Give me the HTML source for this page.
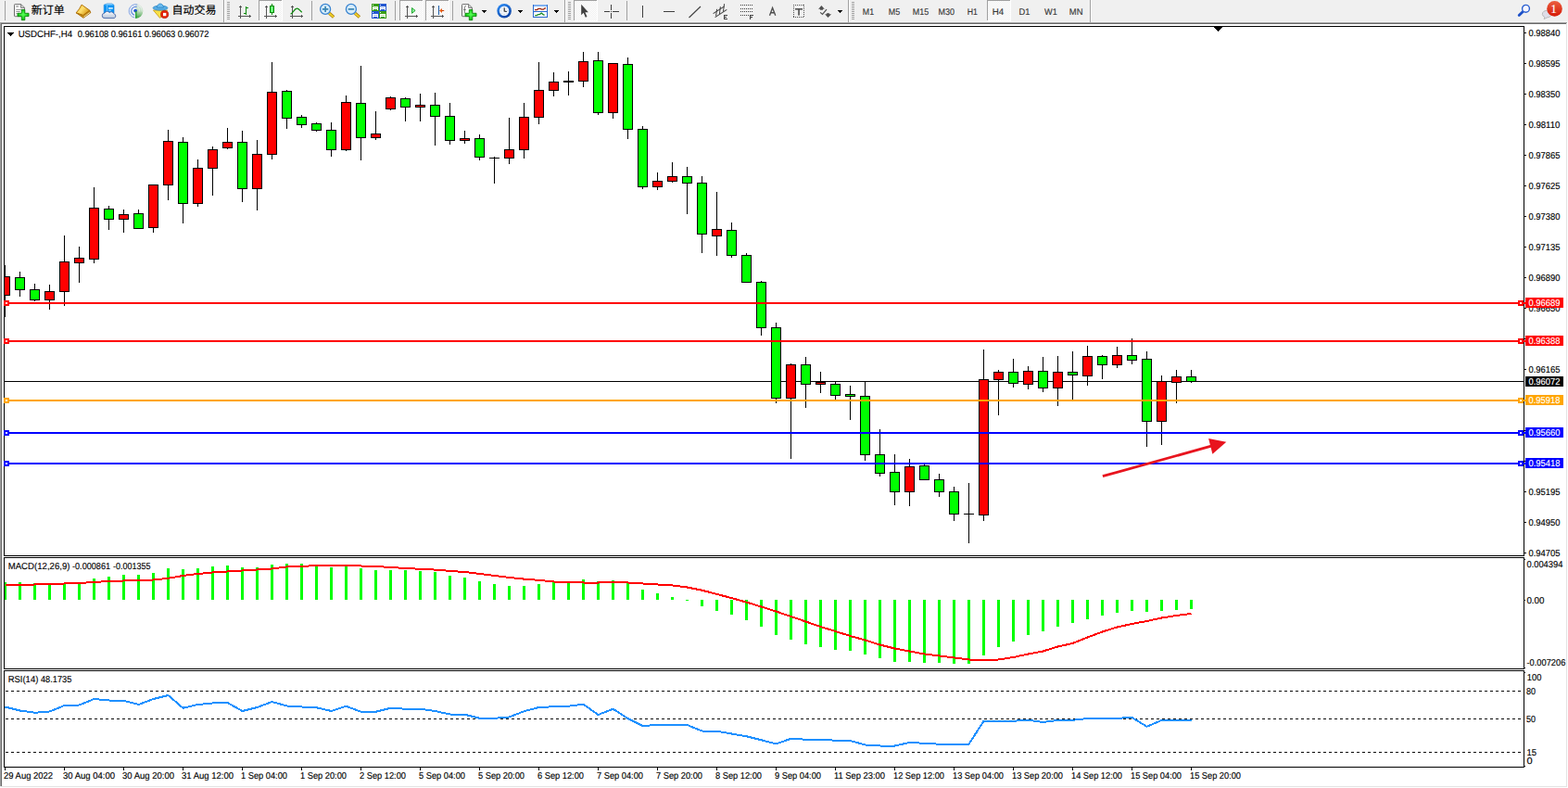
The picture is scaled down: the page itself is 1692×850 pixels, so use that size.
<!DOCTYPE html>
<html><head><meta charset="utf-8"><title>USDCHF-,H4</title>
<style>html,body{margin:0;padding:0;background:#f0f0f0;}body{width:1692px;height:850px;position:relative;overflow:hidden;font-family:"Liberation Sans",sans-serif;}svg text{font-family:"Liberation Sans",sans-serif;text-rendering:geometricPrecision;stroke-width:0.15px;paint-order:stroke;}</style></head>
<body>
<svg width="1692" height="850" viewBox="0 0 1692 850" shape-rendering="crispEdges" font-family="Liberation Sans, sans-serif" style="position:absolute;left:0;top:0"><rect x="0" y="0" width="1692" height="850" fill="#f0f0f0"/>
<rect x="0" y="23" width="1692" height="1" fill="#f4f4f4"/>
<rect x="0" y="24" width="1691" height="1" fill="#a0a0a0"/>
<rect x="0" y="24" width="1" height="824" fill="#a0a0a0"/>
<rect x="1" y="25" width="1689" height="1" fill="#696969"/>
<rect x="1" y="25" width="1" height="823" fill="#696969"/>
<rect x="2" y="26" width="1688" height="822" fill="#ffffff"/>
<rect x="1690" y="25" width="1" height="824" fill="#e3e3e3"/>
<rect x="1" y="848" width="1690" height="1" fill="#e3e3e3"/>
<rect x="1691" y="24" width="1" height="826" fill="#ffffff"/>
<rect x="0" y="849" width="1692" height="1" fill="#ffffff"/>
<rect x="4" y="28" width="1641" height="1" fill="#000"/>
<rect x="4" y="599" width="1641" height="1" fill="#000"/>
<rect x="4" y="28" width="1" height="572" fill="#000"/>
<rect x="1644" y="28" width="1" height="572" fill="#000"/>
<rect x="4" y="601" width="1641" height="1" fill="#000"/>
<rect x="4" y="721" width="1641" height="1" fill="#000"/>
<rect x="4" y="601" width="1" height="121" fill="#000"/>
<rect x="1644" y="601" width="1" height="121" fill="#000"/>
<rect x="4" y="723" width="1641" height="1" fill="#000"/>
<rect x="4" y="827" width="1641" height="1" fill="#000"/>
<rect x="4" y="723" width="1" height="105" fill="#000"/>
<rect x="1644" y="723" width="1" height="105" fill="#000"/>
<rect x="1645" y="35" width="2" height="1" fill="#000"/>
<text x="1649.43" y="39" fill="#000" stroke="#000" font-size="10.0" textLength="33.93" lengthAdjust="spacingAndGlyphs">0.98840</text>
<rect x="1645" y="68" width="2" height="1" fill="#000"/>
<text x="1649.43" y="72" fill="#000" stroke="#000" font-size="10.0" textLength="33.96" lengthAdjust="spacingAndGlyphs">0.98595</text>
<rect x="1645" y="101" width="2" height="1" fill="#000"/>
<text x="1649.43" y="105" fill="#000" stroke="#000" font-size="10.0" textLength="33.93" lengthAdjust="spacingAndGlyphs">0.98350</text>
<rect x="1645" y="134" width="2" height="1" fill="#000"/>
<text x="1649.43" y="138" fill="#000" stroke="#000" font-size="10.0" textLength="33.93" lengthAdjust="spacingAndGlyphs">0.98110</text>
<rect x="1645" y="167" width="2" height="1" fill="#000"/>
<text x="1649.43" y="171" fill="#000" stroke="#000" font-size="10.0" textLength="33.96" lengthAdjust="spacingAndGlyphs">0.97865</text>
<rect x="1645" y="200" width="2" height="1" fill="#000"/>
<text x="1649.43" y="204" fill="#000" stroke="#000" font-size="10.0" textLength="33.96" lengthAdjust="spacingAndGlyphs">0.97625</text>
<rect x="1645" y="233" width="2" height="1" fill="#000"/>
<text x="1649.43" y="237" fill="#000" stroke="#000" font-size="10.0" textLength="33.93" lengthAdjust="spacingAndGlyphs">0.97380</text>
<rect x="1645" y="266" width="2" height="1" fill="#000"/>
<text x="1649.43" y="270" fill="#000" stroke="#000" font-size="10.0" textLength="33.96" lengthAdjust="spacingAndGlyphs">0.97135</text>
<rect x="1645" y="299" width="2" height="1" fill="#000"/>
<text x="1649.43" y="303" fill="#000" stroke="#000" font-size="10.0" textLength="33.93" lengthAdjust="spacingAndGlyphs">0.96890</text>
<rect x="1645" y="332" width="2" height="1" fill="#000"/>
<text x="1649.43" y="336" fill="#000" stroke="#000" font-size="10.0" textLength="33.93" lengthAdjust="spacingAndGlyphs">0.96650</text>
<rect x="1645" y="365" width="2" height="1" fill="#000"/>
<rect x="1645" y="398" width="2" height="1" fill="#000"/>
<text x="1649.43" y="402" fill="#000" stroke="#000" font-size="10.0" textLength="33.96" lengthAdjust="spacingAndGlyphs">0.96165</text>
<rect x="1645" y="431" width="2" height="1" fill="#000"/>
<rect x="1645" y="464" width="2" height="1" fill="#000"/>
<rect x="1645" y="497" width="2" height="1" fill="#000"/>
<rect x="1645" y="530" width="2" height="1" fill="#000"/>
<text x="1649.43" y="534" fill="#000" stroke="#000" font-size="10.0" textLength="33.96" lengthAdjust="spacingAndGlyphs">0.95195</text>
<rect x="1645" y="563" width="2" height="1" fill="#000"/>
<text x="1649.43" y="567" fill="#000" stroke="#000" font-size="10.0" textLength="33.93" lengthAdjust="spacingAndGlyphs">0.94950</text>
<rect x="1645" y="596" width="2" height="1" fill="#000"/>
<text x="1649.43" y="600" fill="#000" stroke="#000" font-size="10.0" textLength="33.96" lengthAdjust="spacingAndGlyphs">0.94705</text>
<rect x="1645" y="603" width="1" height="1" fill="#000"/>
<rect x="1645" y="647" width="1" height="1" fill="#000"/>
<rect x="1645" y="720" width="1" height="1" fill="#000"/>
<rect x="1645" y="725" width="1" height="1" fill="#000"/>
<rect x="1645" y="826" width="1" height="1" fill="#000"/>
<rect x="5" y="411" width="1639" height="1" fill="#000"/>
<clipPath id="cc"><rect x="5" y="29" width="1639" height="570"/></clipPath><g clip-path="url(#cc)">
<rect x="5" y="286" width="1" height="56" fill="#000"/>
<rect x="0" y="298" width="11" height="21" fill="#000"/>
<rect x="1" y="299" width="9" height="19" fill="#ff0000"/>
<rect x="21" y="293" width="1" height="27" fill="#000"/>
<rect x="16" y="299" width="11" height="14" fill="#000"/>
<rect x="17" y="300" width="9" height="12" fill="#00ff00"/>
<rect x="37" y="306" width="1" height="19" fill="#000"/>
<rect x="32" y="312" width="11" height="12" fill="#000"/>
<rect x="33" y="313" width="9" height="10" fill="#00ff00"/>
<rect x="53" y="307" width="1" height="27" fill="#000"/>
<rect x="48" y="314" width="11" height="10" fill="#000"/>
<rect x="49" y="315" width="9" height="8" fill="#ff0000"/>
<rect x="69" y="254" width="1" height="76" fill="#000"/>
<rect x="64" y="282" width="11" height="33" fill="#000"/>
<rect x="65" y="283" width="9" height="31" fill="#ff0000"/>
<rect x="85" y="266" width="1" height="39" fill="#000"/>
<rect x="80" y="278" width="11" height="6" fill="#000"/>
<rect x="81" y="279" width="9" height="4" fill="#ff0000"/>
<rect x="101" y="202" width="1" height="82" fill="#000"/>
<rect x="96" y="224" width="11" height="56" fill="#000"/>
<rect x="97" y="225" width="9" height="54" fill="#ff0000"/>
<rect x="117" y="222" width="1" height="26" fill="#000"/>
<rect x="112" y="225" width="11" height="12" fill="#000"/>
<rect x="113" y="226" width="9" height="10" fill="#00ff00"/>
<rect x="133" y="226" width="1" height="25" fill="#000"/>
<rect x="128" y="231" width="11" height="6" fill="#000"/>
<rect x="129" y="232" width="9" height="4" fill="#ff0000"/>
<rect x="149" y="226" width="1" height="21" fill="#000"/>
<rect x="144" y="230" width="11" height="17" fill="#000"/>
<rect x="145" y="231" width="9" height="15" fill="#00ff00"/>
<rect x="165" y="199" width="1" height="52" fill="#000"/>
<rect x="160" y="199" width="11" height="47" fill="#000"/>
<rect x="161" y="200" width="9" height="45" fill="#ff0000"/>
<rect x="181" y="140" width="1" height="76" fill="#000"/>
<rect x="176" y="152" width="11" height="48" fill="#000"/>
<rect x="177" y="153" width="9" height="46" fill="#ff0000"/>
<rect x="197" y="148" width="1" height="93" fill="#000"/>
<rect x="192" y="153" width="11" height="67" fill="#000"/>
<rect x="193" y="154" width="9" height="65" fill="#00ff00"/>
<rect x="213" y="172" width="1" height="51" fill="#000"/>
<rect x="208" y="181" width="11" height="39" fill="#000"/>
<rect x="209" y="182" width="9" height="37" fill="#ff0000"/>
<rect x="229" y="158" width="1" height="53" fill="#000"/>
<rect x="224" y="161" width="11" height="21" fill="#000"/>
<rect x="225" y="162" width="9" height="19" fill="#ff0000"/>
<rect x="245" y="138" width="1" height="23" fill="#000"/>
<rect x="240" y="153" width="11" height="7" fill="#000"/>
<rect x="241" y="154" width="9" height="5" fill="#ff0000"/>
<rect x="261" y="141" width="1" height="77" fill="#000"/>
<rect x="256" y="153" width="11" height="51" fill="#000"/>
<rect x="257" y="154" width="9" height="49" fill="#00ff00"/>
<rect x="277" y="151" width="1" height="76" fill="#000"/>
<rect x="272" y="166" width="11" height="38" fill="#000"/>
<rect x="273" y="167" width="9" height="36" fill="#ff0000"/>
<rect x="293" y="67" width="1" height="105" fill="#000"/>
<rect x="288" y="99" width="11" height="68" fill="#000"/>
<rect x="289" y="100" width="9" height="66" fill="#ff0000"/>
<rect x="309" y="97" width="1" height="42" fill="#000"/>
<rect x="304" y="98" width="11" height="30" fill="#000"/>
<rect x="305" y="99" width="9" height="28" fill="#00ff00"/>
<rect x="325" y="124" width="1" height="14" fill="#000"/>
<rect x="320" y="126" width="11" height="9" fill="#000"/>
<rect x="321" y="127" width="9" height="7" fill="#00ff00"/>
<rect x="341" y="132" width="1" height="10" fill="#000"/>
<rect x="336" y="133" width="11" height="8" fill="#000"/>
<rect x="337" y="134" width="9" height="6" fill="#00ff00"/>
<rect x="357" y="132" width="1" height="37" fill="#000"/>
<rect x="352" y="140" width="11" height="22" fill="#000"/>
<rect x="353" y="141" width="9" height="20" fill="#00ff00"/>
<rect x="373" y="103" width="1" height="60" fill="#000"/>
<rect x="368" y="110" width="11" height="52" fill="#000"/>
<rect x="369" y="111" width="9" height="50" fill="#ff0000"/>
<rect x="389" y="71" width="1" height="102" fill="#000"/>
<rect x="384" y="111" width="11" height="38" fill="#000"/>
<rect x="385" y="112" width="9" height="36" fill="#00ff00"/>
<rect x="405" y="120" width="1" height="31" fill="#000"/>
<rect x="400" y="144" width="11" height="5" fill="#000"/>
<rect x="401" y="145" width="9" height="3" fill="#ff0000"/>
<rect x="421" y="104" width="1" height="15" fill="#000"/>
<rect x="416" y="105" width="11" height="13" fill="#000"/>
<rect x="417" y="106" width="9" height="11" fill="#ff0000"/>
<rect x="437" y="105" width="1" height="26" fill="#000"/>
<rect x="432" y="106" width="11" height="10" fill="#000"/>
<rect x="433" y="107" width="9" height="8" fill="#00ff00"/>
<rect x="453" y="101" width="1" height="30" fill="#000"/>
<rect x="448" y="113" width="11" height="3" fill="#000"/>
<rect x="449" y="114" width="9" height="1" fill="#ff0000"/>
<rect x="469" y="100" width="1" height="57" fill="#000"/>
<rect x="464" y="113" width="11" height="13" fill="#000"/>
<rect x="465" y="114" width="9" height="11" fill="#00ff00"/>
<rect x="485" y="111" width="1" height="45" fill="#000"/>
<rect x="480" y="125" width="11" height="27" fill="#000"/>
<rect x="481" y="126" width="9" height="25" fill="#00ff00"/>
<rect x="501" y="141" width="1" height="14" fill="#000"/>
<rect x="496" y="149" width="11" height="3" fill="#000"/>
<rect x="497" y="150" width="9" height="1" fill="#ff0000"/>
<rect x="517" y="145" width="1" height="28" fill="#000"/>
<rect x="512" y="149" width="11" height="21" fill="#000"/>
<rect x="513" y="150" width="9" height="19" fill="#00ff00"/>
<rect x="533" y="169" width="1" height="29" fill="#000"/>
<rect x="528" y="170" width="11" height="1" fill="#000"/>
<rect x="549" y="127" width="1" height="50" fill="#000"/>
<rect x="544" y="161" width="11" height="10" fill="#000"/>
<rect x="545" y="162" width="9" height="8" fill="#ff0000"/>
<rect x="565" y="111" width="1" height="60" fill="#000"/>
<rect x="560" y="126" width="11" height="36" fill="#000"/>
<rect x="561" y="127" width="9" height="34" fill="#ff0000"/>
<rect x="581" y="67" width="1" height="67" fill="#000"/>
<rect x="576" y="97" width="11" height="30" fill="#000"/>
<rect x="577" y="98" width="9" height="28" fill="#ff0000"/>
<rect x="597" y="78" width="1" height="26" fill="#000"/>
<rect x="592" y="88" width="11" height="10" fill="#000"/>
<rect x="593" y="89" width="9" height="8" fill="#ff0000"/>
<rect x="613" y="77" width="1" height="26" fill="#000"/>
<rect x="608" y="87" width="11" height="2" fill="#000"/>
<rect x="629" y="56" width="1" height="38" fill="#000"/>
<rect x="624" y="66" width="11" height="22" fill="#000"/>
<rect x="625" y="67" width="9" height="20" fill="#ff0000"/>
<rect x="645" y="56" width="1" height="68" fill="#000"/>
<rect x="640" y="65" width="11" height="57" fill="#000"/>
<rect x="641" y="66" width="9" height="55" fill="#00ff00"/>
<rect x="661" y="68" width="1" height="60" fill="#000"/>
<rect x="656" y="68" width="11" height="54" fill="#000"/>
<rect x="657" y="69" width="9" height="52" fill="#ff0000"/>
<rect x="677" y="62" width="1" height="88" fill="#000"/>
<rect x="672" y="69" width="11" height="71" fill="#000"/>
<rect x="673" y="70" width="9" height="69" fill="#00ff00"/>
<rect x="693" y="136" width="1" height="68" fill="#000"/>
<rect x="688" y="139" width="11" height="63" fill="#000"/>
<rect x="689" y="140" width="9" height="61" fill="#00ff00"/>
<rect x="709" y="186" width="1" height="19" fill="#000"/>
<rect x="704" y="195" width="11" height="7" fill="#000"/>
<rect x="705" y="196" width="9" height="5" fill="#ff0000"/>
<rect x="725" y="175" width="1" height="22" fill="#000"/>
<rect x="720" y="190" width="11" height="6" fill="#000"/>
<rect x="721" y="191" width="9" height="4" fill="#ff0000"/>
<rect x="741" y="180" width="1" height="51" fill="#000"/>
<rect x="736" y="190" width="11" height="8" fill="#000"/>
<rect x="737" y="191" width="9" height="6" fill="#00ff00"/>
<rect x="757" y="190" width="1" height="83" fill="#000"/>
<rect x="752" y="197" width="11" height="56" fill="#000"/>
<rect x="753" y="198" width="9" height="54" fill="#00ff00"/>
<rect x="773" y="207" width="1" height="69" fill="#000"/>
<rect x="768" y="247" width="11" height="8" fill="#000"/>
<rect x="769" y="248" width="9" height="6" fill="#ff0000"/>
<rect x="789" y="240" width="1" height="38" fill="#000"/>
<rect x="784" y="248" width="11" height="28" fill="#000"/>
<rect x="785" y="249" width="9" height="26" fill="#00ff00"/>
<rect x="805" y="273" width="1" height="32" fill="#000"/>
<rect x="800" y="275" width="11" height="30" fill="#000"/>
<rect x="801" y="276" width="9" height="28" fill="#00ff00"/>
<rect x="821" y="303" width="1" height="59" fill="#000"/>
<rect x="816" y="304" width="11" height="50" fill="#000"/>
<rect x="817" y="305" width="9" height="48" fill="#00ff00"/>
<rect x="837" y="348" width="1" height="87" fill="#000"/>
<rect x="832" y="353" width="11" height="77" fill="#000"/>
<rect x="833" y="354" width="9" height="75" fill="#00ff00"/>
<rect x="853" y="392" width="1" height="103" fill="#000"/>
<rect x="848" y="393" width="11" height="37" fill="#000"/>
<rect x="849" y="394" width="9" height="35" fill="#ff0000"/>
<rect x="869" y="385" width="1" height="55" fill="#000"/>
<rect x="864" y="393" width="11" height="22" fill="#000"/>
<rect x="865" y="394" width="9" height="20" fill="#00ff00"/>
<rect x="885" y="401" width="1" height="23" fill="#000"/>
<rect x="880" y="412" width="11" height="3" fill="#000"/>
<rect x="881" y="413" width="9" height="1" fill="#ff0000"/>
<rect x="901" y="412" width="1" height="19" fill="#000"/>
<rect x="896" y="414" width="11" height="13" fill="#000"/>
<rect x="897" y="415" width="9" height="11" fill="#00ff00"/>
<rect x="917" y="416" width="1" height="37" fill="#000"/>
<rect x="912" y="425" width="11" height="3" fill="#000"/>
<rect x="913" y="426" width="9" height="1" fill="#00ff00"/>
<rect x="933" y="412" width="1" height="85" fill="#000"/>
<rect x="928" y="427" width="11" height="64" fill="#000"/>
<rect x="929" y="428" width="9" height="62" fill="#00ff00"/>
<rect x="949" y="463" width="1" height="51" fill="#000"/>
<rect x="944" y="490" width="11" height="21" fill="#000"/>
<rect x="945" y="491" width="9" height="19" fill="#00ff00"/>
<rect x="965" y="490" width="1" height="55" fill="#000"/>
<rect x="960" y="509" width="11" height="22" fill="#000"/>
<rect x="961" y="510" width="9" height="20" fill="#00ff00"/>
<rect x="981" y="495" width="1" height="51" fill="#000"/>
<rect x="976" y="503" width="11" height="28" fill="#000"/>
<rect x="977" y="504" width="9" height="26" fill="#ff0000"/>
<rect x="997" y="501" width="1" height="17" fill="#000"/>
<rect x="992" y="502" width="11" height="16" fill="#000"/>
<rect x="993" y="503" width="9" height="14" fill="#00ff00"/>
<rect x="1013" y="511" width="1" height="25" fill="#000"/>
<rect x="1008" y="517" width="11" height="14" fill="#000"/>
<rect x="1009" y="518" width="9" height="12" fill="#00ff00"/>
<rect x="1029" y="525" width="1" height="37" fill="#000"/>
<rect x="1024" y="530" width="11" height="25" fill="#000"/>
<rect x="1025" y="531" width="9" height="23" fill="#00ff00"/>
<rect x="1045" y="521" width="1" height="65" fill="#000"/>
<rect x="1040" y="554" width="11" height="1" fill="#000"/>
<rect x="1061" y="377" width="1" height="185" fill="#000"/>
<rect x="1056" y="409" width="11" height="147" fill="#000"/>
<rect x="1057" y="410" width="9" height="145" fill="#ff0000"/>
<rect x="1077" y="399" width="1" height="49" fill="#000"/>
<rect x="1072" y="401" width="11" height="9" fill="#000"/>
<rect x="1073" y="402" width="9" height="7" fill="#ff0000"/>
<rect x="1093" y="387" width="1" height="31" fill="#000"/>
<rect x="1088" y="401" width="11" height="13" fill="#000"/>
<rect x="1089" y="402" width="9" height="11" fill="#00ff00"/>
<rect x="1109" y="395" width="1" height="25" fill="#000"/>
<rect x="1104" y="400" width="11" height="15" fill="#000"/>
<rect x="1105" y="401" width="9" height="13" fill="#ff0000"/>
<rect x="1125" y="385" width="1" height="38" fill="#000"/>
<rect x="1120" y="400" width="11" height="19" fill="#000"/>
<rect x="1121" y="401" width="9" height="17" fill="#00ff00"/>
<rect x="1141" y="384" width="1" height="54" fill="#000"/>
<rect x="1136" y="401" width="11" height="18" fill="#000"/>
<rect x="1137" y="402" width="9" height="16" fill="#ff0000"/>
<rect x="1157" y="379" width="1" height="52" fill="#000"/>
<rect x="1152" y="401" width="11" height="4" fill="#000"/>
<rect x="1153" y="402" width="9" height="2" fill="#00ff00"/>
<rect x="1173" y="373" width="1" height="43" fill="#000"/>
<rect x="1168" y="384" width="11" height="22" fill="#000"/>
<rect x="1169" y="385" width="9" height="20" fill="#ff0000"/>
<rect x="1189" y="383" width="1" height="26" fill="#000"/>
<rect x="1184" y="384" width="11" height="10" fill="#000"/>
<rect x="1185" y="385" width="9" height="8" fill="#00ff00"/>
<rect x="1205" y="374" width="1" height="23" fill="#000"/>
<rect x="1200" y="383" width="11" height="11" fill="#000"/>
<rect x="1201" y="384" width="9" height="9" fill="#ff0000"/>
<rect x="1221" y="365" width="1" height="28" fill="#000"/>
<rect x="1216" y="383" width="11" height="6" fill="#000"/>
<rect x="1217" y="384" width="9" height="4" fill="#00ff00"/>
<rect x="1237" y="379" width="1" height="103" fill="#000"/>
<rect x="1232" y="387" width="11" height="68" fill="#000"/>
<rect x="1233" y="388" width="9" height="66" fill="#00ff00"/>
<rect x="1253" y="405" width="1" height="75" fill="#000"/>
<rect x="1248" y="411" width="11" height="44" fill="#000"/>
<rect x="1249" y="412" width="9" height="42" fill="#ff0000"/>
<rect x="1269" y="399" width="1" height="36" fill="#000"/>
<rect x="1264" y="406" width="11" height="7" fill="#000"/>
<rect x="1265" y="407" width="9" height="5" fill="#ff0000"/>
<rect x="1285" y="399" width="1" height="14" fill="#000"/>
<rect x="1280" y="406" width="11" height="6" fill="#000"/>
<rect x="1281" y="407" width="9" height="4" fill="#00ff00"/>
</g>
<rect x="5" y="326" width="1641" height="2" fill="#ff0000"/>
<rect x="4" y="324" width="6" height="6" fill="#ff0000"/>
<rect x="6" y="326" width="2" height="2" fill="#fff"/>
<rect x="1638" y="324" width="6" height="6" fill="#ff0000"/>
<rect x="1640" y="326" width="2" height="2" fill="#fff"/>
<rect x="1646" y="321" width="41" height="11" fill="#ff0000"/>
<text x="1649.43" y="330" fill="#fff" stroke="#fff" font-size="10.0" textLength="34.01" lengthAdjust="spacingAndGlyphs">0.96689</text>
<rect x="5" y="367" width="1641" height="2" fill="#ff0000"/>
<rect x="4" y="365" width="6" height="6" fill="#ff0000"/>
<rect x="6" y="367" width="2" height="2" fill="#fff"/>
<rect x="1638" y="365" width="6" height="6" fill="#ff0000"/>
<rect x="1640" y="367" width="2" height="2" fill="#fff"/>
<rect x="1646" y="362" width="41" height="11" fill="#ff0000"/>
<text x="1649.43" y="371" fill="#fff" stroke="#fff" font-size="10.0" textLength="33.98" lengthAdjust="spacingAndGlyphs">0.96388</text>
<rect x="5" y="431" width="1641" height="2" fill="#ffa500"/>
<rect x="4" y="429" width="6" height="6" fill="#ffa500"/>
<rect x="6" y="431" width="2" height="2" fill="#fff"/>
<rect x="1638" y="429" width="6" height="6" fill="#ffa500"/>
<rect x="1640" y="431" width="2" height="2" fill="#fff"/>
<rect x="1646" y="426" width="41" height="11" fill="#ffa500"/>
<text x="1649.43" y="435" fill="#fff" stroke="#fff" font-size="10.0" textLength="33.98" lengthAdjust="spacingAndGlyphs">0.95918</text>
<rect x="5" y="466" width="1641" height="2" fill="#0000ff"/>
<rect x="4" y="464" width="6" height="6" fill="#0000ff"/>
<rect x="6" y="466" width="2" height="2" fill="#fff"/>
<rect x="1638" y="464" width="6" height="6" fill="#0000ff"/>
<rect x="1640" y="466" width="2" height="2" fill="#fff"/>
<rect x="1646" y="461" width="41" height="11" fill="#0000ff"/>
<text x="1649.43" y="470" fill="#fff" stroke="#fff" font-size="10.0" textLength="33.93" lengthAdjust="spacingAndGlyphs">0.95660</text>
<rect x="5" y="499" width="1641" height="2" fill="#0000ff"/>
<rect x="4" y="497" width="6" height="6" fill="#0000ff"/>
<rect x="6" y="499" width="2" height="2" fill="#fff"/>
<rect x="1638" y="497" width="6" height="6" fill="#0000ff"/>
<rect x="1640" y="499" width="2" height="2" fill="#fff"/>
<rect x="1646" y="494" width="41" height="11" fill="#0000ff"/>
<text x="1649.43" y="503" fill="#fff" stroke="#fff" font-size="10.0" textLength="33.98" lengthAdjust="spacingAndGlyphs">0.95418</text>
<rect x="1646" y="406" width="41" height="11" fill="#000"/>
<text x="1649.43" y="415" fill="#fff" stroke="#fff" font-size="10.0" textLength="34.04" lengthAdjust="spacingAndGlyphs">0.96072</text>
<g shape-rendering="geometricPrecision"><line x1="1189.9" y1="513.7" x2="1307" y2="481.2" stroke="#e8141e" stroke-width="2.8"/><polygon points="1304.1,473 1323.3,476.8 1308.4,489.8" fill="#e8141e"/></g>
<rect x="1310" y="29" width="9" height="1" fill="#000"/>
<rect x="1311" y="30" width="7" height="1" fill="#000"/>
<rect x="1312" y="31" width="5" height="1" fill="#000"/>
<rect x="1313" y="32" width="3" height="1" fill="#000"/>
<rect x="1314" y="33" width="1" height="1" fill="#000"/>
<rect x="8" y="35" width="7" height="1" fill="#000"/>
<rect x="9" y="36" width="5" height="1" fill="#000"/>
<rect x="10" y="37" width="3" height="1" fill="#000"/>
<rect x="11" y="38" width="1" height="1" fill="#000"/>
<text x="19.66" y="40" fill="#000" stroke="#000" font-size="10.0" textLength="58.43" lengthAdjust="spacingAndGlyphs">USDCHF-,H4</text>
<text x="83.64" y="40" fill="#000" stroke="#000" font-size="10.0" textLength="33.67" lengthAdjust="spacingAndGlyphs">0.96108</text>
<text x="119.64" y="40" fill="#000" stroke="#000" font-size="10.0" textLength="33.72" lengthAdjust="spacingAndGlyphs">0.96161</text>
<text x="155.64" y="40" fill="#000" stroke="#000" font-size="10.0" textLength="33.67" lengthAdjust="spacingAndGlyphs">0.96063</text>
<text x="191.64" y="40" fill="#000" stroke="#000" font-size="10.0" textLength="33.73" lengthAdjust="spacingAndGlyphs">0.96072</text>
<rect x="4" y="628" width="3" height="19" fill="#00ff00"/>
<rect x="20" y="628" width="3" height="19" fill="#00ff00"/>
<rect x="36" y="629" width="3" height="18" fill="#00ff00"/>
<rect x="52" y="630" width="3" height="17" fill="#00ff00"/>
<rect x="68" y="629" width="3" height="18" fill="#00ff00"/>
<rect x="84" y="629" width="3" height="18" fill="#00ff00"/>
<rect x="100" y="624" width="3" height="23" fill="#00ff00"/>
<rect x="116" y="622" width="3" height="25" fill="#00ff00"/>
<rect x="132" y="620" width="3" height="27" fill="#00ff00"/>
<rect x="148" y="620" width="3" height="27" fill="#00ff00"/>
<rect x="164" y="618" width="3" height="29" fill="#00ff00"/>
<rect x="180" y="613" width="3" height="34" fill="#00ff00"/>
<rect x="196" y="614" width="3" height="33" fill="#00ff00"/>
<rect x="212" y="613" width="3" height="34" fill="#00ff00"/>
<rect x="228" y="611" width="3" height="36" fill="#00ff00"/>
<rect x="244" y="610" width="3" height="37" fill="#00ff00"/>
<rect x="260" y="612" width="3" height="35" fill="#00ff00"/>
<rect x="276" y="612" width="3" height="35" fill="#00ff00"/>
<rect x="292" y="609" width="3" height="38" fill="#00ff00"/>
<rect x="308" y="608" width="3" height="39" fill="#00ff00"/>
<rect x="324" y="608" width="3" height="39" fill="#00ff00"/>
<rect x="340" y="609" width="3" height="38" fill="#00ff00"/>
<rect x="356" y="612" width="3" height="35" fill="#00ff00"/>
<rect x="372" y="610" width="3" height="37" fill="#00ff00"/>
<rect x="388" y="613" width="3" height="34" fill="#00ff00"/>
<rect x="404" y="615" width="3" height="32" fill="#00ff00"/>
<rect x="420" y="615" width="3" height="32" fill="#00ff00"/>
<rect x="436" y="615" width="3" height="32" fill="#00ff00"/>
<rect x="452" y="616" width="3" height="31" fill="#00ff00"/>
<rect x="468" y="617" width="3" height="30" fill="#00ff00"/>
<rect x="484" y="621" width="3" height="26" fill="#00ff00"/>
<rect x="500" y="623" width="3" height="24" fill="#00ff00"/>
<rect x="516" y="627" width="3" height="20" fill="#00ff00"/>
<rect x="532" y="630" width="3" height="17" fill="#00ff00"/>
<rect x="548" y="632" width="3" height="15" fill="#00ff00"/>
<rect x="564" y="632" width="3" height="15" fill="#00ff00"/>
<rect x="580" y="630" width="3" height="17" fill="#00ff00"/>
<rect x="596" y="628" width="3" height="19" fill="#00ff00"/>
<rect x="612" y="628" width="3" height="19" fill="#00ff00"/>
<rect x="628" y="625" width="3" height="22" fill="#00ff00"/>
<rect x="644" y="627" width="3" height="20" fill="#00ff00"/>
<rect x="660" y="626" width="3" height="21" fill="#00ff00"/>
<rect x="676" y="629" width="3" height="18" fill="#00ff00"/>
<rect x="692" y="636" width="3" height="11" fill="#00ff00"/>
<rect x="708" y="640" width="3" height="7" fill="#00ff00"/>
<rect x="724" y="644" width="3" height="3" fill="#00ff00"/>
<rect x="740" y="647" width="3" height="1" fill="#00ff00"/>
<rect x="756" y="647" width="3" height="7" fill="#00ff00"/>
<rect x="772" y="647" width="3" height="12" fill="#00ff00"/>
<rect x="788" y="647" width="3" height="16" fill="#00ff00"/>
<rect x="804" y="647" width="3" height="22" fill="#00ff00"/>
<rect x="820" y="647" width="3" height="29" fill="#00ff00"/>
<rect x="836" y="647" width="3" height="38" fill="#00ff00"/>
<rect x="852" y="647" width="3" height="43" fill="#00ff00"/>
<rect x="868" y="647" width="3" height="48" fill="#00ff00"/>
<rect x="884" y="647" width="3" height="51" fill="#00ff00"/>
<rect x="900" y="647" width="3" height="54" fill="#00ff00"/>
<rect x="916" y="647" width="3" height="55" fill="#00ff00"/>
<rect x="932" y="647" width="3" height="59" fill="#00ff00"/>
<rect x="948" y="647" width="3" height="63" fill="#00ff00"/>
<rect x="964" y="647" width="3" height="67" fill="#00ff00"/>
<rect x="980" y="647" width="3" height="67" fill="#00ff00"/>
<rect x="996" y="647" width="3" height="68" fill="#00ff00"/>
<rect x="1012" y="647" width="3" height="68" fill="#00ff00"/>
<rect x="1028" y="647" width="3" height="69" fill="#00ff00"/>
<rect x="1044" y="647" width="3" height="69" fill="#00ff00"/>
<rect x="1060" y="647" width="3" height="60" fill="#00ff00"/>
<rect x="1076" y="647" width="3" height="51" fill="#00ff00"/>
<rect x="1092" y="647" width="3" height="45" fill="#00ff00"/>
<rect x="1108" y="647" width="3" height="38" fill="#00ff00"/>
<rect x="1124" y="647" width="3" height="34" fill="#00ff00"/>
<rect x="1140" y="647" width="3" height="29" fill="#00ff00"/>
<rect x="1156" y="647" width="3" height="25" fill="#00ff00"/>
<rect x="1172" y="647" width="3" height="21" fill="#00ff00"/>
<rect x="1188" y="647" width="3" height="17" fill="#00ff00"/>
<rect x="1204" y="647" width="3" height="14" fill="#00ff00"/>
<rect x="1220" y="647" width="3" height="12" fill="#00ff00"/>
<rect x="1236" y="647" width="3" height="13" fill="#00ff00"/>
<rect x="1252" y="647" width="3" height="12" fill="#00ff00"/>
<rect x="1268" y="647" width="3" height="11" fill="#00ff00"/>
<rect x="1284" y="647" width="3" height="10" fill="#00ff00"/>
<polyline points="5.5,630.75 21.5,630.75 37.5,630.5 53.5,630.25 69.5,629.5 85.5,629 101.5,628 117.5,627 133.5,626.5 149.5,626 165.5,625.5 181.5,623.75 197.5,621 213.5,619 229.5,617.5 245.5,616.5 261.5,615.5 277.5,614.5 293.5,613.5 309.5,611.5 325.5,611 341.5,610 357.5,610 373.5,610 389.5,610.5 405.5,611 421.5,612 437.5,613 453.5,613.75 469.5,614.6 485.5,615.9 501.5,617 517.5,619 533.5,621 549.5,622.9 565.5,624.6 581.5,625.9 597.5,627.5 613.5,628 629.5,628.5 645.5,628.5 661.5,628 677.5,628.5 693.5,629.5 709.5,630.5 725.5,631.5 741.5,633.5 757.5,636.7 773.5,640.9 789.5,645.1 805.5,649.6 821.5,654.5 837.5,659.5 853.5,665 869.5,670.5 885.5,676 901.5,681 917.5,686 933.5,690.5 949.5,695.5 965.5,699.5 981.5,702.5 997.5,705.5 1013.5,707.5 1029.5,709.5 1045.5,711.5 1061.5,712 1077.5,711.5 1093.5,709 1109.5,705.5 1125.5,702.5 1141.5,697.5 1157.5,694 1173.5,687.5 1189.5,681.5 1205.5,676.5 1221.5,673 1237.5,670 1253.5,666.5 1269.5,664 1285.5,662" fill="none" stroke="#ff0000" stroke-width="2" stroke-linejoin="round"/>
<rect x="2" y="602" width="2" height="119" fill="#fff"/>
<rect x="4" y="602" width="1" height="119" fill="#000"/>
<text x="8.71" y="614" fill="#000" stroke="#000" font-size="10.0" textLength="66.78" lengthAdjust="spacingAndGlyphs">MACD(12,26,9)</text>
<text x="78.00" y="614" fill="#000" stroke="#000" font-size="10.0" textLength="41.05" lengthAdjust="spacingAndGlyphs">-0.000861</text>
<text x="122.00" y="614" fill="#000" stroke="#000" font-size="10.0" textLength="40.37" lengthAdjust="spacingAndGlyphs">-0.001355</text>
<text x="1647.44" y="612" fill="#000" stroke="#000" font-size="10.0" textLength="38.94" lengthAdjust="spacingAndGlyphs">0.004394</text>
<text x="1647.42" y="651" fill="#000" stroke="#000" font-size="10.0" textLength="19.07" lengthAdjust="spacingAndGlyphs">0.00</text>
<text x="1647.49" y="718" fill="#000" stroke="#000" font-size="10.0" textLength="41.82" lengthAdjust="spacingAndGlyphs">-0.007206</text>
<line x1="6" y1="745.5" x2="1643" y2="745.5" stroke="#000" stroke-width="1" stroke-dasharray="3 3"/>
<line x1="6" y1="775.5" x2="1643" y2="775.5" stroke="#000" stroke-width="1" stroke-dasharray="3 3"/>
<line x1="6" y1="811.5" x2="1643" y2="811.5" stroke="#000" stroke-width="1" stroke-dasharray="3 3"/>
<polyline points="5.5,762.5 21.5,766.5 37.5,768.75 53.5,767.5 69.5,761 85.5,760.5 101.5,754 117.5,755.5 133.5,755.75 149.5,760 165.5,754 181.5,750 197.5,763.75 213.5,760 229.5,758.5 245.5,758 261.5,767 277.5,763 293.5,757 309.5,761.5 325.5,762.5 341.5,763.25 357.5,767 373.5,761.75 389.5,767.75 405.5,767.75 421.5,763.75 437.5,764.75 453.5,764.75 469.5,767 485.5,770.5 501.5,770.75 517.5,774.75 533.5,774.75 549.5,773.5 565.5,767.25 581.5,763 597.5,762.25 613.5,761.75 629.5,759.75 645.5,771 661.5,764.75 677.5,775 693.5,783 709.5,782 725.5,781.75 741.5,782 757.5,788.5 773.5,788.75 789.5,791.5 805.5,794.25 821.5,798.25 837.5,802.5 853.5,796.75 869.5,797.75 885.5,797.75 901.5,798.75 917.5,799 933.5,803.5 949.5,804.5 965.5,804.5 981.5,801 997.5,801.75 1013.5,802.75 1029.5,802.75 1045.5,802.75 1061.5,777.75 1077.5,777.75 1093.5,777.75 1109.5,776.75 1125.5,779 1141.5,777 1157.5,776.75 1173.5,775 1189.5,775 1205.5,774.75 1221.5,774 1237.5,783.75 1253.5,777 1269.5,776.9 1285.5,776.9" fill="none" stroke="#1e90ff" stroke-width="2" stroke-linejoin="round"/>
<rect x="2" y="724" width="2" height="103" fill="#fff"/>
<rect x="4" y="724" width="1" height="103" fill="#000"/>
<text x="8.72" y="736" fill="#000" stroke="#000" font-size="10.0" textLength="32.56" lengthAdjust="spacingAndGlyphs">RSI(14)</text>
<text x="43.99" y="736" fill="#000" stroke="#000" font-size="10.0" textLength="33.30" lengthAdjust="spacingAndGlyphs">48.1735</text>
<text x="1647.79" y="734" fill="#000" stroke="#000" font-size="10.0" textLength="15.58" lengthAdjust="spacingAndGlyphs">100</text>
<text x="1647.01" y="749" fill="#000" stroke="#000" font-size="10.0" textLength="10.05" lengthAdjust="spacingAndGlyphs">80</text>
<text x="1647.04" y="779" fill="#000" stroke="#000" font-size="10.0" textLength="10.01" lengthAdjust="spacingAndGlyphs">50</text>
<text x="1647.48" y="815" fill="#000" stroke="#000" font-size="10.0" textLength="10.52" lengthAdjust="spacingAndGlyphs">15</text>
<text x="1647.47" y="824" fill="#000" stroke="#000" font-size="10.0" textLength="6.17" lengthAdjust="spacingAndGlyphs">0</text>
<rect x="5" y="828" width="1" height="3" fill="#000"/>
<text x="4" y="840" fill="#000" stroke="#000" font-size="10.0" textLength="53" lengthAdjust="spacingAndGlyphs">29 Aug 2022</text>
<rect x="69" y="828" width="1" height="3" fill="#000"/>
<text x="68" y="840" fill="#000" stroke="#000" font-size="10.0" textLength="56" lengthAdjust="spacingAndGlyphs">30 Aug 04:00</text>
<rect x="133" y="828" width="1" height="3" fill="#000"/>
<text x="132" y="840" fill="#000" stroke="#000" font-size="10.0" textLength="56" lengthAdjust="spacingAndGlyphs">30 Aug 20:00</text>
<rect x="197" y="828" width="1" height="3" fill="#000"/>
<text x="196" y="840" fill="#000" stroke="#000" font-size="10.0" textLength="56" lengthAdjust="spacingAndGlyphs">31 Aug 12:00</text>
<rect x="261" y="828" width="1" height="3" fill="#000"/>
<text x="260" y="840" fill="#000" stroke="#000" font-size="10.0" textLength="50" lengthAdjust="spacingAndGlyphs">1 Sep 04:00</text>
<rect x="325" y="828" width="1" height="3" fill="#000"/>
<text x="324" y="840" fill="#000" stroke="#000" font-size="10.0" textLength="50" lengthAdjust="spacingAndGlyphs">1 Sep 20:00</text>
<rect x="389" y="828" width="1" height="3" fill="#000"/>
<text x="388" y="840" fill="#000" stroke="#000" font-size="10.0" textLength="50" lengthAdjust="spacingAndGlyphs">2 Sep 12:00</text>
<rect x="453" y="828" width="1" height="3" fill="#000"/>
<text x="452" y="840" fill="#000" stroke="#000" font-size="10.0" textLength="50" lengthAdjust="spacingAndGlyphs">5 Sep 04:00</text>
<rect x="517" y="828" width="1" height="3" fill="#000"/>
<text x="516" y="840" fill="#000" stroke="#000" font-size="10.0" textLength="50" lengthAdjust="spacingAndGlyphs">5 Sep 20:00</text>
<rect x="581" y="828" width="1" height="3" fill="#000"/>
<text x="580" y="840" fill="#000" stroke="#000" font-size="10.0" textLength="50" lengthAdjust="spacingAndGlyphs">6 Sep 12:00</text>
<rect x="645" y="828" width="1" height="3" fill="#000"/>
<text x="644" y="840" fill="#000" stroke="#000" font-size="10.0" textLength="50" lengthAdjust="spacingAndGlyphs">7 Sep 04:00</text>
<rect x="709" y="828" width="1" height="3" fill="#000"/>
<text x="708" y="840" fill="#000" stroke="#000" font-size="10.0" textLength="50" lengthAdjust="spacingAndGlyphs">7 Sep 20:00</text>
<rect x="773" y="828" width="1" height="3" fill="#000"/>
<text x="772" y="840" fill="#000" stroke="#000" font-size="10.0" textLength="50" lengthAdjust="spacingAndGlyphs">8 Sep 12:00</text>
<rect x="837" y="828" width="1" height="3" fill="#000"/>
<text x="836" y="840" fill="#000" stroke="#000" font-size="10.0" textLength="50" lengthAdjust="spacingAndGlyphs">9 Sep 04:00</text>
<rect x="901" y="828" width="1" height="3" fill="#000"/>
<text x="900" y="840" fill="#000" stroke="#000" font-size="10.0" textLength="55" lengthAdjust="spacingAndGlyphs">11 Sep 23:00</text>
<rect x="965" y="828" width="1" height="3" fill="#000"/>
<text x="964" y="840" fill="#000" stroke="#000" font-size="10.0" textLength="55" lengthAdjust="spacingAndGlyphs">12 Sep 12:00</text>
<rect x="1029" y="828" width="1" height="3" fill="#000"/>
<text x="1028" y="840" fill="#000" stroke="#000" font-size="10.0" textLength="55" lengthAdjust="spacingAndGlyphs">13 Sep 04:00</text>
<rect x="1093" y="828" width="1" height="3" fill="#000"/>
<text x="1092" y="840" fill="#000" stroke="#000" font-size="10.0" textLength="55" lengthAdjust="spacingAndGlyphs">13 Sep 20:00</text>
<rect x="1157" y="828" width="1" height="3" fill="#000"/>
<text x="1156" y="840" fill="#000" stroke="#000" font-size="10.0" textLength="55" lengthAdjust="spacingAndGlyphs">14 Sep 12:00</text>
<rect x="1221" y="828" width="1" height="3" fill="#000"/>
<text x="1220" y="840" fill="#000" stroke="#000" font-size="10.0" textLength="55" lengthAdjust="spacingAndGlyphs">15 Sep 04:00</text>
<rect x="1285" y="828" width="1" height="3" fill="#000"/>
<text x="1284" y="840" fill="#000" stroke="#000" font-size="10.0" textLength="55" lengthAdjust="spacingAndGlyphs">15 Sep 20:00</text><defs><pattern id="ck" width="2" height="2" patternUnits="userSpaceOnUse"><rect width="2" height="2" fill="#f0f0f0"/><rect width="1" height="1" fill="#fff"/><rect x="1" y="1" width="1" height="1" fill="#fff"/></pattern></defs>
<rect x="5" y="1" width="1" height="21" fill="#a0a0a0"/>
<g shape-rendering="geometricPrecision"><defs><radialGradient id="gp" cx="0.5" cy="0.45" r="0.6"><stop offset="0" stop-color="#5cff5c"/><stop offset="0.6" stop-color="#22d822"/><stop offset="1" stop-color="#10a010"/></radialGradient></defs>
<g transform="translate(0,0)"><path d="M16.2 4.6h6.6l3.6 3.6v8.8q0 0.7-0.7 0.7h-9.5q-0.7 0-0.7-0.7v-11.7q0-0.7 0.7-0.7z" fill="#fcfcfc" stroke="#6e6e6e" stroke-width="1"/><path d="M22.6 4.8v3.6h3.6" fill="#d8d8d8" stroke="#6e6e6e" stroke-width="0.9"/>
<rect x="17.3" y="6.2" width="2.6" height="1.4" fill="#9a9a9a"/><path d="M17.3 10.4h7.2M17.3 12.5h4.4M17.3 14.6h2.8" stroke="#8a8a8a" stroke-width="0.9"/>
<path d="M23.3 10.5h3.5v3.8h4.2v3.3h-4.2v4.1h-3.5v-4.1h-4.3v-3.3h4.3z" fill="url(#gp)" stroke="#0c8a0c" stroke-width="0.9" stroke-linejoin="round"/></g>
</g>
<text x="33.8" y="15.4" font-size="12" fill="#000" stroke="#000" style="font-family:'Liberation Sans','Noto Sans CJK SC',sans-serif">新订单</text>
<g shape-rendering="geometricPrecision"><defs><linearGradient id="gy" x1="0" y1="0" x2="1" y2="0.6"><stop offset="0" stop-color="#f2b818"/><stop offset="0.5" stop-color="#ffe070"/><stop offset="1" stop-color="#d89a10"/></linearGradient></defs><path d="M82.2 13.8L90 19.3L97.8 13.7L96.8 11.2L89.8 16.4z" fill="#c89018" stroke="#a86800" stroke-width="0.9" stroke-linejoin="round"/><path d="M90.6 18.2L97 13.4" stroke="#e8dca8" stroke-width="1"/><path d="M88.1 5.1L96.8 11.2L89.8 16.4L82.2 13.8Q85.8 10 88.1 5.1z" fill="url(#gy)" stroke="#a86800" stroke-width="0.9" stroke-linejoin="round"/></g>
<g shape-rendering="geometricPrecision"><defs><linearGradient id="gc" x1="0" y1="0" x2="0" y2="1"><stop offset="0" stop-color="#ffffff"/><stop offset="1" stop-color="#b4c2d8"/></linearGradient></defs><path d="M112.2 5.2l3.4-1.2h5.2l2.2 1.4v8.6h-10.8z" fill="#0a94f4" stroke="#0a7ad8" stroke-width="0.6"/><path d="M112.2 5.2l3.4-1.2h5.2l2.2 1.4h-7.4z" fill="#7ccaff"/><path d="M115.5 5.5v8" stroke="#8ad0ff" stroke-width="0.8"/><rect x="117" y="8.2" width="4.8" height="1.5" fill="#e6f4ff"/><rect x="117" y="10.8" width="3" height="0.8" fill="#bfe2ff"/><path d="M113 19.6a2.7 2.7 0 0 1-0.2-5.4a3.2 3.2 0 0 1 5.4-0.6a2.8 2.8 0 0 1 4.6 1.2a2.5 2.5 0 0 1 0.4 4.8z" fill="url(#gc)" stroke="#4a6aa8" stroke-width="0.9"/></g>
<g shape-rendering="geometricPrecision"><defs><radialGradient id="gs" cx="0.5" cy="0.5" r="0.5"><stop offset="0" stop-color="#ffffff"/><stop offset="0.8" stop-color="#e6edf7"/><stop offset="1" stop-color="#e6edf7" stop-opacity="0"/></radialGradient><linearGradient id="gg" gradientUnits="userSpaceOnUse" x1="150" y1="4" x2="147" y2="20"><stop offset="0" stop-color="#cfe2cc" stop-opacity="0.25"/><stop offset="0.5" stop-color="#a4d0a0" stop-opacity="0.75"/><stop offset="1" stop-color="#2c9a34"/></linearGradient></defs><circle cx="146.1" cy="11.8" r="8.3" fill="url(#gs)"/><path d="M146.4 11.8L146.4 3.8A8 8 0 0 1 146.4 19.8z" fill="url(#gg)"/><path d="M148.2 4.9A7.2 7.2 0 1 0 145.4 19" fill="none" stroke="#6a90dc" stroke-width="1" opacity="0.8"/><path d="M147.6 7.4A4.6 4.6 0 1 0 145.2 16.3" fill="none" stroke="#4a78d8" stroke-width="1.1" opacity="0.9"/><path d="M148.6 7.8A4.6 4.6 0 0 1 150.6 12.6M150 5.8A7.2 7.2 0 0 1 153.2 12.6" fill="none" stroke="#ffffff" stroke-width="0.8" opacity="0.55"/><circle cx="146.1" cy="11.6" r="1.9" fill="#2454d0"/><path d="M146.8 12v7.7" stroke="#22a02c" stroke-width="1.3"/></g>
<g shape-rendering="geometricPrecision"><path d="M165.4 11l15.4 0.2l-8.2 8.2z" fill="#f8e048" stroke="#cfa21c" stroke-width="0.9" stroke-linejoin="round"/><ellipse cx="173" cy="8.6" rx="7.9" ry="2.5" fill="#58aee6" stroke="#2c86c4" stroke-width="0.8"/><path d="M169.4 8.2c0.2-5.6 6.8-5.6 7 0z" fill="#6cbcf0" stroke="#2c86c4" stroke-width="0.8"/><circle cx="177.6" cy="15.5" r="4.1" fill="#e42408" stroke="#b01404" stroke-width="0.7"/><rect x="176" y="13.9" width="3.3" height="3.3" fill="#fff"/></g>
<text x="185.6" y="15.4" font-size="12" fill="#000" stroke="#000" style="font-family:'Liberation Sans','Noto Sans CJK SC',sans-serif">自动交易</text>
<rect x="241" y="0" width="1" height="24" fill="#a0a0a0"/>
<rect x="242" y="0" width="1" height="24" fill="#ffffff"/>
<rect x="245" y="2" width="3" height="1" fill="#a0a0a0"/>
<rect x="245" y="4" width="3" height="1" fill="#a0a0a0"/>
<rect x="245" y="6" width="3" height="1" fill="#a0a0a0"/>
<rect x="245" y="8" width="3" height="1" fill="#a0a0a0"/>
<rect x="245" y="10" width="3" height="1" fill="#a0a0a0"/>
<rect x="245" y="12" width="3" height="1" fill="#a0a0a0"/>
<rect x="245" y="14" width="3" height="1" fill="#a0a0a0"/>
<rect x="245" y="16" width="3" height="1" fill="#a0a0a0"/>
<rect x="245" y="18" width="3" height="1" fill="#a0a0a0"/>
<rect x="245" y="20" width="3" height="1" fill="#a0a0a0"/>
<g shape-rendering="crispEdges" fill="#555"><rect x="259" y="6" width="1" height="14"/><rect x="257" y="17" width="14" height="1"/><rect x="258" y="7" width="3" height="1"/><rect x="269" y="16" width="1" height="3"/></g>
<g shape-rendering="crispEdges" fill="#0a8a0a"><rect x="265" y="7" width="1" height="9"/><rect x="263" y="14" width="2" height="1"/><rect x="266" y="8" width="2" height="1"/></g>
<rect x="279" y="0" width="26" height="23" fill="url(#ck)"/>
<rect x="279" y="0" width="25" height="1" fill="#a0a0a0"/>
<rect x="279" y="0" width="1" height="22" fill="#a0a0a0"/>
<rect x="279" y="22" width="26" height="1" fill="#ffffff"/>
<rect x="304" y="0" width="1" height="23" fill="#ffffff"/>
<g shape-rendering="crispEdges" fill="#555"><rect x="287" y="6" width="1" height="14"/><rect x="285" y="17" width="14" height="1"/><rect x="286" y="7" width="3" height="1"/><rect x="297" y="16" width="1" height="3"/></g>
<g shape-rendering="crispEdges"><rect x="293" y="4" width="1" height="12" fill="#0a8a0a"/><rect x="291" y="6" width="5" height="8" fill="#0a8a0a"/><rect x="292" y="7" width="3" height="6" fill="#4cf05c"/><rect x="293" y="7" width="1" height="6" fill="#8cff98"/></g>
<g shape-rendering="crispEdges" fill="#555"><rect x="315" y="6" width="1" height="14"/><rect x="313" y="17" width="14" height="1"/><rect x="314" y="7" width="3" height="1"/><rect x="325" y="16" width="1" height="3"/></g>
<g shape-rendering="geometricPrecision"><path d="M313.6 15.2C316.5 13.5 317.8 9.2 320.4 9.2C322.6 9.2 323.8 11.8 325.8 13.2" fill="none" stroke="#0a8a0a" stroke-width="1.2"/></g>
<rect x="336" y="1" width="1" height="21" fill="#a0a0a0"/>
<g shape-rendering="geometricPrecision"><path d="M355.3 14.3L360.1 18.6" stroke="#a87810" stroke-width="3.4" stroke-linecap="butt"/><path d="M355.1 14.2L359.90000000000003 18.4" stroke="#f0d428" stroke-width="1.9" stroke-linecap="butt"/><circle cx="351.1" cy="9.9" r="5.5" fill="#d6ecfa" stroke="#3a84d0" stroke-width="1.3"/><path d="M347.90000000000003 9.9h6.4M351.1 6.7v6.4" stroke="#3a86b4" stroke-width="1.7"/></g>
<g shape-rendering="geometricPrecision"><path d="M383.09999999999997 14.3L387.9 18.6" stroke="#a87810" stroke-width="3.4" stroke-linecap="butt"/><path d="M382.9 14.2L387.7 18.4" stroke="#f0d428" stroke-width="1.9" stroke-linecap="butt"/><circle cx="378.9" cy="9.9" r="5.5" fill="#d6ecfa" stroke="#3a84d0" stroke-width="1.3"/><path d="M375.7 9.9h6.4" stroke="#3a86b4" stroke-width="1.7"/></g>
<g shape-rendering="crispEdges">
<rect x="401" y="4" width="8" height="8" fill="#3a9e14"/><rect x="402" y="5" width="1" height="1" fill="#e8f0ff"/><rect x="402" y="7" width="6" height="4" fill="#fff"/><rect x="403" y="8" width="4" height="1" fill="#b6e0a0"/><rect x="403" y="10" width="4" height="1" fill="#3a9e14"/>
<rect x="409" y="4" width="8" height="8" fill="#2458d0"/><rect x="410" y="5" width="1" height="1" fill="#e8f0ff"/><rect x="410" y="7" width="6" height="4" fill="#fff"/><rect x="411" y="8" width="4" height="1" fill="#a8c0f0"/><rect x="411" y="10" width="4" height="1" fill="#2458d0"/>
<rect x="401" y="12" width="8" height="8" fill="#2458d0"/><rect x="402" y="13" width="1" height="1" fill="#e8f0ff"/><rect x="402" y="15" width="6" height="4" fill="#fff"/><rect x="403" y="16" width="4" height="1" fill="#a8c0f0"/><rect x="403" y="18" width="4" height="1" fill="#2458d0"/>
<rect x="409" y="12" width="8" height="8" fill="#3a9e14"/><rect x="410" y="13" width="1" height="1" fill="#e8f0ff"/><rect x="410" y="15" width="6" height="4" fill="#fff"/><rect x="411" y="16" width="4" height="1" fill="#b6e0a0"/><rect x="411" y="18" width="4" height="1" fill="#3a9e14"/>
</g>
<rect x="426" y="1" width="1" height="21" fill="#a0a0a0"/>
<rect x="431" y="0" width="26" height="23" fill="url(#ck)"/>
<rect x="431" y="0" width="25" height="1" fill="#a0a0a0"/>
<rect x="431" y="0" width="1" height="22" fill="#a0a0a0"/>
<rect x="431" y="22" width="26" height="1" fill="#ffffff"/>
<rect x="456" y="0" width="1" height="23" fill="#ffffff"/>
<g shape-rendering="crispEdges" fill="#555"><rect x="439" y="6" width="1" height="14"/><rect x="437" y="17" width="14" height="1"/><rect x="438" y="7" width="3" height="1"/><rect x="449" y="16" width="1" height="3"/></g>
<g shape-rendering="geometricPrecision"><path d="M444.5 8.5v5.8l3.6-2.9z" fill="#8cf09a" stroke="#12a022" stroke-width="0.9"/></g>
<rect x="459" y="0" width="26" height="23" fill="url(#ck)"/>
<rect x="459" y="0" width="25" height="1" fill="#a0a0a0"/>
<rect x="459" y="0" width="1" height="22" fill="#a0a0a0"/>
<rect x="459" y="22" width="26" height="1" fill="#ffffff"/>
<rect x="484" y="0" width="1" height="23" fill="#ffffff"/>
<g shape-rendering="crispEdges" fill="#555"><rect x="467" y="6" width="1" height="14"/><rect x="465" y="17" width="14" height="1"/><rect x="466" y="7" width="3" height="1"/><rect x="477" y="16" width="1" height="3"/></g>
<rect x="473" y="6" width="1" height="10" fill="#1f5fa8" shape-rendering="crispEdges"/>
<g shape-rendering="geometricPrecision"><path d="M474.6 11.5h4.6" stroke="#c84008" stroke-width="1.1"/><path d="M474.2 11.5l2.8-2.4v4.8z" fill="#e85a10"/></g>
<rect x="488" y="1" width="1" height="21" fill="#a0a0a0"/>
<g shape-rendering="geometricPrecision">
<g transform="translate(483,0)"><path d="M16.2 4.6h6.6l3.6 3.6v8.8q0 0.7-0.7 0.7h-9.5q-0.7 0-0.7-0.7v-11.7q0-0.7 0.7-0.7z" fill="#fcfcfc" stroke="#6e6e6e" stroke-width="1"/><path d="M22.6 4.8v3.6h3.6" fill="#d8d8d8" stroke="#6e6e6e" stroke-width="0.9"/>
<path d="M20 6.6c-1.6-0.2-1.7 0.8-1.7 2v5.6M17 10.4h2.8" fill="none" stroke="#6a6a6a" stroke-width="0.9"/>
<path d="M23.3 10.5h3.5v3.8h4.2v3.3h-4.2v4.1h-3.5v-4.1h-4.3v-3.3h4.3z" fill="url(#gp)" stroke="#0c8a0c" stroke-width="0.9" stroke-linejoin="round"/></g>
</g>
<rect x="520" y="11" width="5" height="1" fill="#000"/>
<rect x="521" y="12" width="3" height="1" fill="#000"/>
<rect x="522" y="13" width="1" height="1" fill="#000"/>
<g shape-rendering="geometricPrecision"><defs><linearGradient id="gk" x1="0.2" y1="0" x2="0.8" y2="1"><stop offset="0" stop-color="#2a8af4"/><stop offset="1" stop-color="#0a3c9c"/></linearGradient></defs><circle cx="544.1" cy="11.8" r="7.8" fill="url(#gk)"/><circle cx="544.1" cy="11.8" r="5.2" fill="#f2f6fc"/><path d="M544.1 7.6v0.9M544.1 15.1v0.9M539.9 11.8h0.9M547.4 11.8h0.9M541.2 8.9l0.5 0.5M547 8.9l-0.5 0.5M541.2 14.7l0.5-0.5M547 14.7l-0.5-0.5" stroke="#8a96a8" stroke-width="0.7"/><path d="M544.2 8.6v3.4l2.6 0.5" fill="none" stroke="#202020" stroke-width="1.1"/></g>
<rect x="559" y="11" width="5" height="1" fill="#000"/>
<rect x="560" y="12" width="3" height="1" fill="#000"/>
<rect x="561" y="13" width="1" height="1" fill="#000"/>
<g shape-rendering="crispEdges"><rect x="575" y="5" width="16" height="14" fill="#2a6ad0"/><rect x="576" y="5" width="14" height="2" fill="#7fb0f0"/><rect x="576" y="7" width="14" height="5" fill="#fff"/><rect x="576" y="13" width="14" height="5" fill="#fff"/></g>
<g shape-rendering="geometricPrecision"><path d="M577 10.6h2.4l1.6-1.2h2.2l1.4 0.8h1.8l1.6-1.4h1" fill="none" stroke="#a02408" stroke-width="1.3"/><path d="M577.2 16.6h2l1.6-1h1.6l1.8-1.6l1.8 1.6l1.6 0.8" fill="none" stroke="#1a8a2a" stroke-width="1.3"/></g>
<rect x="598" y="11" width="5" height="1" fill="#000"/>
<rect x="599" y="12" width="3" height="1" fill="#000"/>
<rect x="600" y="13" width="1" height="1" fill="#000"/>
<rect x="609" y="0" width="1" height="24" fill="#a0a0a0"/>
<rect x="610" y="0" width="1" height="24" fill="#ffffff"/>
<rect x="613" y="2" width="3" height="1" fill="#a0a0a0"/>
<rect x="613" y="4" width="3" height="1" fill="#a0a0a0"/>
<rect x="613" y="6" width="3" height="1" fill="#a0a0a0"/>
<rect x="613" y="8" width="3" height="1" fill="#a0a0a0"/>
<rect x="613" y="10" width="3" height="1" fill="#a0a0a0"/>
<rect x="613" y="12" width="3" height="1" fill="#a0a0a0"/>
<rect x="613" y="14" width="3" height="1" fill="#a0a0a0"/>
<rect x="613" y="16" width="3" height="1" fill="#a0a0a0"/>
<rect x="613" y="18" width="3" height="1" fill="#a0a0a0"/>
<rect x="613" y="20" width="3" height="1" fill="#a0a0a0"/>
<rect x="619" y="0" width="26" height="23" fill="url(#ck)"/>
<rect x="619" y="0" width="25" height="1" fill="#a0a0a0"/>
<rect x="619" y="0" width="1" height="22" fill="#a0a0a0"/>
<rect x="619" y="22" width="26" height="1" fill="#ffffff"/>
<rect x="644" y="0" width="1" height="23" fill="#ffffff"/>
<g shape-rendering="geometricPrecision"><path d="M627.2 4.8v11.4l2.5-2.4l2.1 5l1.7-0.8l-2.1-4.8h3.5z" fill="#404040"/></g>
<g shape-rendering="crispEdges" fill="#404040"><rect x="659" y="5" width="1" height="6"/><rect x="659" y="14" width="1" height="6"/><rect x="652" y="12" width="6" height="1"/><rect x="661" y="12" width="7" height="1"/><rect x="659" y="12" width="1" height="1"/></g>
<rect x="676" y="1" width="1" height="21" fill="#a0a0a0"/>
<g shape-rendering="crispEdges" fill="#404040"><rect x="693" y="6" width="1" height="13"/><rect x="716" y="12" width="12" height="1"/></g>
<g shape-rendering="geometricPrecision"><path d="M743.5 19L756 7" stroke="#404040" stroke-width="1.1"/></g>
<g shape-rendering="geometricPrecision"><path d="M769.6 14.6L781.6 6.9M771.6 18.6L784.3 10.4" stroke="#404040" stroke-width="1.1"/><path d="M773.6 9.8l-1 7.4M777.4 7.2l-1 7.8M781.6 4.2l-1.2 8.4" stroke="#404040" stroke-width="1"/></g>
<g shape-rendering="crispEdges" fill="#404040"><rect x="781" y="16" width="1" height="5"/><rect x="781" y="16" width="4" height="1"/><rect x="781" y="18" width="3" height="1"/><rect x="781" y="20" width="4" height="1"/></g>
<g shape-rendering="crispEdges" fill="#404040"><rect x="799" y="5" width="1" height="1"/><rect x="801" y="5" width="1" height="1"/><rect x="803" y="5" width="1" height="1"/><rect x="805" y="5" width="1" height="1"/><rect x="807" y="5" width="1" height="1"/><rect x="809" y="5" width="1" height="1"/><rect x="811" y="5" width="1" height="1"/><rect x="799" y="9" width="1" height="1"/><rect x="801" y="9" width="1" height="1"/><rect x="803" y="9" width="1" height="1"/><rect x="805" y="9" width="1" height="1"/><rect x="807" y="9" width="1" height="1"/><rect x="809" y="9" width="1" height="1"/><rect x="811" y="9" width="1" height="1"/><rect x="799" y="12" width="1" height="1"/><rect x="801" y="12" width="1" height="1"/><rect x="803" y="12" width="1" height="1"/><rect x="805" y="12" width="1" height="1"/><rect x="807" y="12" width="1" height="1"/><rect x="809" y="12" width="1" height="1"/><rect x="811" y="12" width="1" height="1"/><rect x="799" y="16" width="1" height="1"/><rect x="801" y="16" width="1" height="1"/><rect x="803" y="16" width="1" height="1"/><rect x="805" y="16" width="1" height="1"/><rect x="807" y="16" width="1" height="1"/><rect x="809" y="16" width="1" height="5"/><rect x="809" y="16" width="4" height="1"/><rect x="809" y="18" width="3" height="1"/></g>
<path d="M830.5 16.7L833.6 8.4L836.8 16.7M831.6 13.7H835.6" fill="none" stroke="#505050" stroke-width="1.35" stroke-linejoin="miter" shape-rendering="geometricPrecision"/>
<g shape-rendering="crispEdges" fill="#555"><rect x="856" y="5" width="1" height="1"/><rect x="858" y="5" width="1" height="1"/><rect x="860" y="5" width="1" height="1"/><rect x="862" y="5" width="1" height="1"/><rect x="864" y="5" width="1" height="1"/><rect x="866" y="5" width="1" height="1"/><rect x="856" y="18" width="1" height="1"/><rect x="858" y="18" width="1" height="1"/><rect x="860" y="18" width="1" height="1"/><rect x="862" y="18" width="1" height="1"/><rect x="864" y="18" width="1" height="1"/><rect x="866" y="18" width="1" height="1"/><rect x="856" y="5" width="1" height="1"/><rect x="856" y="7" width="1" height="1"/><rect x="856" y="9" width="1" height="1"/><rect x="856" y="11" width="1" height="1"/><rect x="856" y="13" width="1" height="1"/><rect x="856" y="15" width="1" height="1"/><rect x="856" y="17" width="1" height="1"/><rect x="867" y="5" width="1" height="1"/><rect x="867" y="7" width="1" height="1"/><rect x="867" y="9" width="1" height="1"/><rect x="867" y="11" width="1" height="1"/><rect x="867" y="13" width="1" height="1"/><rect x="867" y="15" width="1" height="1"/><rect x="867" y="17" width="1" height="1"/></g>
<g shape-rendering="geometricPrecision" fill="#555"><rect x="858" y="9" width="8" height="1.6"/><rect x="861.2" y="9" width="1.7" height="7.6"/></g>
<g shape-rendering="geometricPrecision"><path d="M886.4 6L889.8 9.8H888V10.8H884.9V9.8H883.1z" fill="#505050"/><path d="M893.5 18.9L890.1 15.2H892V14.3H895V15.2H897.1z" fill="#505050"/><path d="M885.1 13.4l2.4 2.1l4.5-5.4" fill="none" stroke="#505050" stroke-width="1.2"/></g>
<rect x="904" y="11" width="5" height="1" fill="#000"/>
<rect x="905" y="12" width="3" height="1" fill="#000"/>
<rect x="906" y="13" width="1" height="1" fill="#000"/>
<rect x="915" y="0" width="1" height="24" fill="#a0a0a0"/>
<rect x="916" y="0" width="1" height="24" fill="#ffffff"/>
<rect x="919" y="2" width="3" height="1" fill="#a0a0a0"/>
<rect x="919" y="4" width="3" height="1" fill="#a0a0a0"/>
<rect x="919" y="6" width="3" height="1" fill="#a0a0a0"/>
<rect x="919" y="8" width="3" height="1" fill="#a0a0a0"/>
<rect x="919" y="10" width="3" height="1" fill="#a0a0a0"/>
<rect x="919" y="12" width="3" height="1" fill="#a0a0a0"/>
<rect x="919" y="14" width="3" height="1" fill="#a0a0a0"/>
<rect x="919" y="16" width="3" height="1" fill="#a0a0a0"/>
<rect x="919" y="18" width="3" height="1" fill="#a0a0a0"/>
<rect x="919" y="20" width="3" height="1" fill="#a0a0a0"/>
<rect x="1065" y="0" width="26" height="23" fill="url(#ck)"/>
<rect x="1065" y="0" width="25" height="1" fill="#a0a0a0"/>
<rect x="1065" y="0" width="1" height="22" fill="#a0a0a0"/>
<rect x="1065" y="22" width="26" height="1" fill="#ffffff"/>
<rect x="1090" y="0" width="1" height="23" fill="#ffffff"/>
<text x="930.8" y="16" font-size="9.8" fill="#383838" stroke="#383838" textLength="12.3" lengthAdjust="spacingAndGlyphs">M1</text>
<text x="958.8" y="16" font-size="9.8" fill="#383838" stroke="#383838" textLength="12.4" lengthAdjust="spacingAndGlyphs">M5</text>
<text x="984.8" y="16" font-size="9.8" fill="#383838" stroke="#383838" textLength="17.4" lengthAdjust="spacingAndGlyphs">M15</text>
<text x="1012.6" y="16" font-size="9.8" fill="#383838" stroke="#383838" textLength="17.5" lengthAdjust="spacingAndGlyphs">M30</text>
<text x="1043.8" y="16" font-size="9.8" fill="#383838" stroke="#383838" textLength="11.2" lengthAdjust="spacingAndGlyphs">H1</text>
<text x="1070.7" y="16" font-size="9.8" fill="#383838" stroke="#383838" textLength="12.5" lengthAdjust="spacingAndGlyphs">H4</text>
<text x="1099.5" y="16" font-size="9.8" fill="#383838" stroke="#383838" textLength="11.9" lengthAdjust="spacingAndGlyphs">D1</text>
<text x="1127.1" y="16" font-size="9.8" fill="#383838" stroke="#383838" textLength="13.8" lengthAdjust="spacingAndGlyphs">W1</text>
<text x="1153.8" y="16" font-size="9.8" fill="#383838" stroke="#383838" textLength="14.7" lengthAdjust="spacingAndGlyphs">MN</text>
<rect x="1176" y="0" width="1" height="24" fill="#a0a0a0"/>
<rect x="1177" y="0" width="1" height="24" fill="#ffffff"/>
<g shape-rendering="geometricPrecision"><path d="M1639.2 16.6L1643.4 12.4" stroke="#1c50c8" stroke-width="2.8" stroke-linecap="round"/><circle cx="1646.5" cy="9.3" r="3.9" fill="#f6f6ff" stroke="#2a5fd0" stroke-width="1.4"/></g>
<g shape-rendering="geometricPrecision"><defs><linearGradient id="gb" x1="0" y1="0" x2="0" y2="1"><stop offset="0" stop-color="#ea5e40"/><stop offset="1" stop-color="#d61a06"/></linearGradient></defs><path d="M1666.2 20.6l0.6-2.2a4.9 3.8 0 1 1 2.6 0.5z" fill="#dedee8" stroke="#b4b4b4" stroke-width="0.9"/><circle cx="1677.5" cy="9.4" r="8.3" fill="url(#gb)"/></g>
<text x="1673.2" y="14" font-size="13.2" font-family="Liberation Serif, serif" style="font-family:'Liberation Serif',serif" fill="#fff" stroke="#fff" stroke-width="0.8">1</text></svg>
</body></html>
